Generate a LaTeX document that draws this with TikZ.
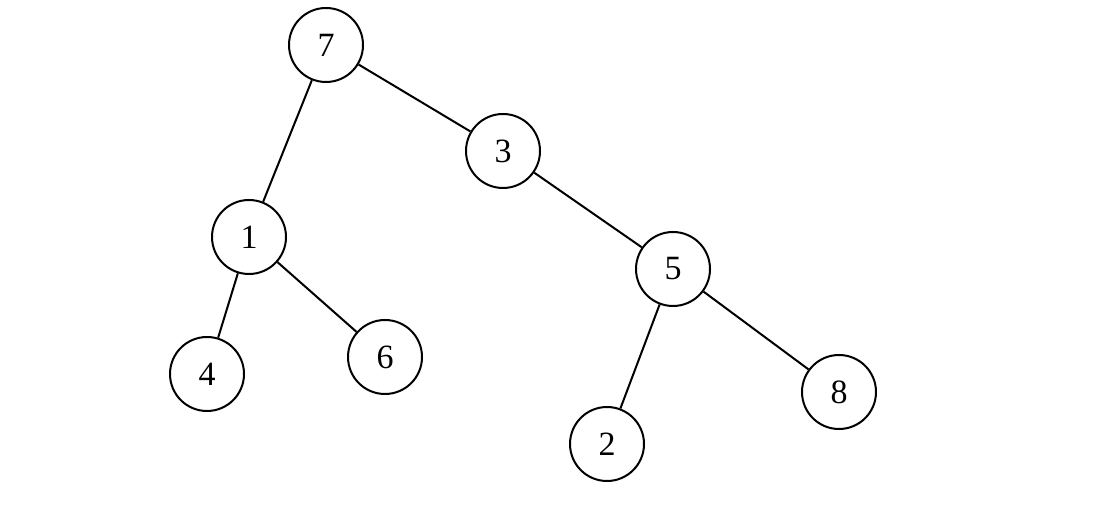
\documentclass[tikz,border=0pt]{standalone}
\usepackage{fontspec}
\setmainfont{Liberation Serif}
\begin{document}
\begin{tikzpicture}[x=0.5pt,y=-0.5pt,
    vertex/.style={circle,draw,line width=1pt,minimum size=37pt,inner sep=0pt,font=\fontsize{17}{17}\selectfont},
    edge/.style={line width=1pt}]
\useasboundingbox (0,0) rectangle (1096,512);

% noeuds de l'arbre
\node[vertex] (n7) at (326,45) {7};
\node[vertex] (n3) at (503,151) {3};
\node[vertex] (n1) at (249,237) {1};
\node[vertex] (n5) at (673,269) {5};
\node[vertex] (n4) at (207,374) {4};
\node[vertex] (n6) at (385,357) {6};
\node[vertex] (n2) at (607,444) {2};
\node[vertex] (n8) at (839,392) {8};

% aretes
\foreach \u/\v in {n7/n1,n7/n3,n3/n5,n1/n4,n1/n6,n5/n2,n5/n8}
    \draw[edge] (\u) -- (\v);
\end{tikzpicture}
\end{document}
